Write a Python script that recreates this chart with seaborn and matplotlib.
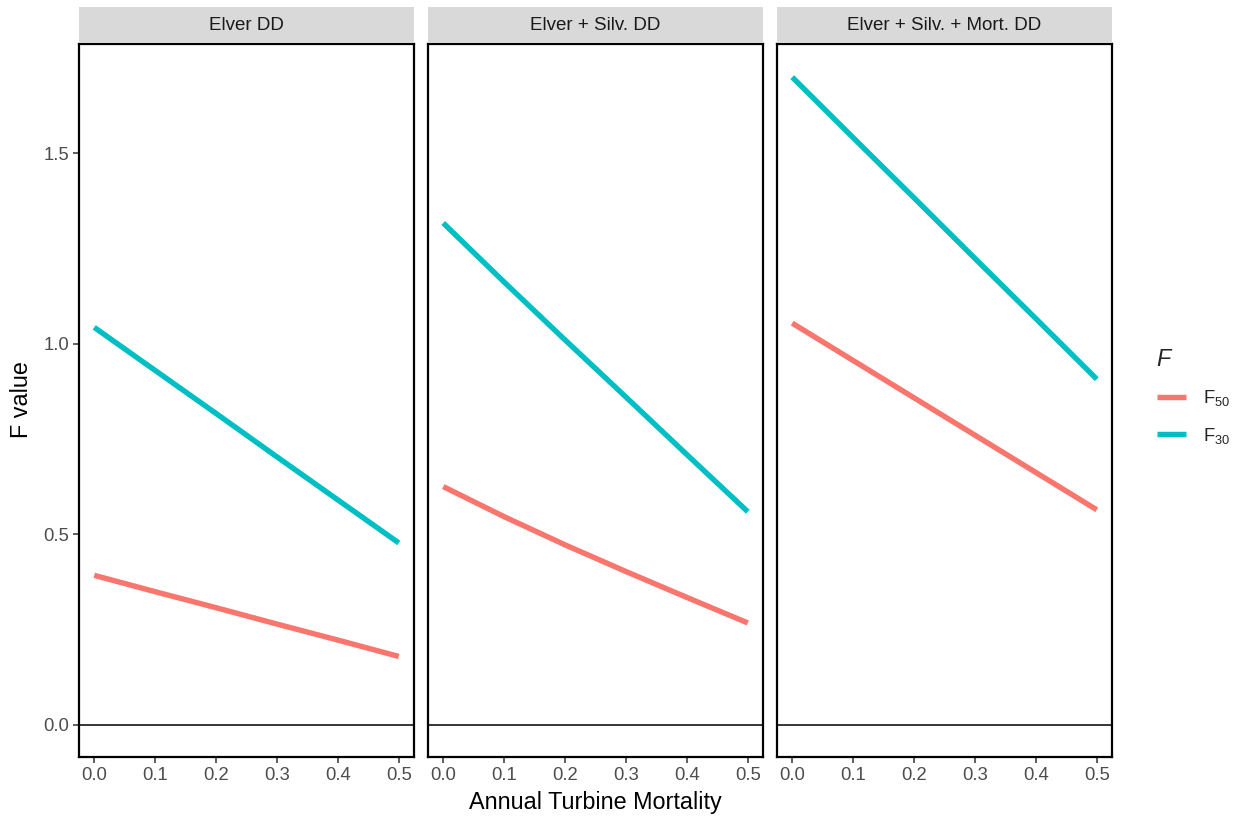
import matplotlib
matplotlib.use("Agg")
import matplotlib.pyplot as plt
import seaborn as sns
import pandas as pd

sns.set_style("white")
plt.rcParams['font.family'] = ['Liberation Sans', 'DejaVu Sans']
plt.rcParams['mathtext.fontset'] = 'custom'
plt.rcParams['mathtext.rm'] = 'Liberation Sans'
plt.rcParams['mathtext.it'] = 'Liberation Sans:italic'

# data
mortality = [0.0, 0.1, 0.2, 0.3, 0.4, 0.5]
panels = ['Elver DD', 'Elver + Silv. DD', 'Elver + Silv. + Mort. DD']
f50_elver = [0.392, 0.349, 0.307, 0.264, 0.222, 0.179]
f30_elver = [1.043, 0.930, 0.817, 0.703, 0.590, 0.477]
f50_silv = [0.625, 0.546, 0.472, 0.402, 0.334, 0.267]
f30_silv = [1.317, 1.162, 1.010, 0.860, 0.709, 0.559]
f50_mort = [1.054, 0.956, 0.858, 0.760, 0.662, 0.564]
f30_mort = [1.700, 1.541, 1.383, 1.224, 1.066, 0.907]
f_labels = ['F$_{50}$', 'F$_{30}$']
colors = ['#F8766D', '#00BFC4']

rows = []
for panel, f50, f30 in zip(panels, [f50_elver, f50_silv, f50_mort],
                           [f30_elver, f30_silv, f30_mort]):
    for lab, vals in zip(f_labels, [f50, f30]):
        for x, y in zip(mortality, vals):
            rows.append({'panel': panel, 'F': lab, 'Mortality': x, 'value': y})
df = pd.DataFrame(rows)

W, H = 1238, 819
fig = plt.figure(figsize=(W / 100, H / 100), dpi=100)

left0, pw, gap = 79, 335, 14
top, bottom = 44, 757
strip_h = 36

axes = []
for i, panel in enumerate(panels):
    x0 = left0 + i * (pw + gap)
    ax = fig.add_axes([x0 / W, 1 - bottom / H, pw / W, (bottom - top) / H],
                      sharey=axes[0] if axes else None)
    axes.append(ax)
    ax.axhline(0, color='black', lw=1.1, zorder=1)
    sns.lineplot(data=df[df['panel'] == panel], x='Mortality', y='value',
                 hue='F', hue_order=f_labels, palette=colors, lw=3.9,
                 ax=ax, legend=False, zorder=2, solid_capstyle='butt')
    ax.set_xlim(-0.025, 0.525)
    ax.set_ylim(-0.085, 1.787)
    ax.set_xticks(mortality)
    ax.set_xticklabels([f'{v:.1f}' for v in mortality])
    ax.set_yticks([0.0, 0.5, 1.0, 1.5])
    ax.set_xlabel('')
    ax.set_ylabel('')
    for s in ax.spines.values():
        s.set_color('black')
        s.set_linewidth(1.6)
    ax.tick_params(axis='both', which='both', length=4, width=1.1,
                   color='#333333', labelcolor='#4D4D4D', labelsize=13.3,
                   direction='out', bottom=True, left=(i == 0), pad=3)
    if i > 0:
        ax.tick_params(axis='y', labelleft=False)
    # facet strip
    sax = fig.add_axes([x0 / W, 1 - (top - 1) / H, pw / W, strip_h / H])
    sax.set_facecolor('#D9D9D9')
    sax.set_xticks([])
    sax.set_yticks([])
    for s in sax.spines.values():
        s.set_visible(False)
    sax.text(0.5, 0.5, panel, ha='center', va='center', fontsize=13.5,
             color='#1A1A1A', transform=sax.transAxes)

fig.text(595 / W, 1 - 803 / H, 'Annual Turbine Mortality', ha='center',
         va='center', fontsize=16.8, color='black')
fig.text(22 / W, 1 - 400 / H, 'F value', ha='center', va='center',
         rotation=90, fontsize=16.8, color='black')

handles = [plt.Line2D([], [], color=c, lw=3.9, solid_capstyle='butt')
           for c in colors]
leg = fig.legend(handles, f_labels, title='F', loc='upper left',
                 bbox_to_anchor=(1140 / W, 1 - 331 / H), frameon=False,
                 fontsize=13.3, title_fontsize=16.8, handlelength=1.6,
                 handletextpad=0.9, labelspacing=0.95, alignment='left')
leg.get_title().set_fontstyle('italic')

fig.savefig('out.png', dpi=100)
